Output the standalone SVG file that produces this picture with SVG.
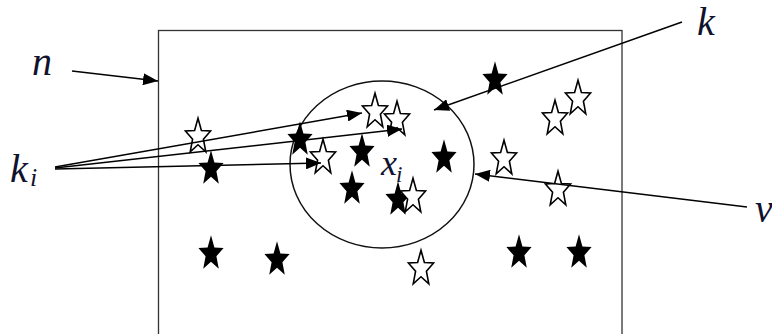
<svg xmlns="http://www.w3.org/2000/svg" width="772" height="334" viewBox="0 0 772 334">
<style>
.lbl{font-style:italic;fill:#10122e}
.line{stroke:#000;stroke-width:1.5;fill:none}
.full{fill:#000}
.open{fill:#fff;stroke:#000;stroke-width:1.5;stroke-linejoin:miter}
</style>
<defs>
<path id="star" transform="scale(1.06)" d="M0,-15.8 L3.2,-4.3 L11.89,-3.72 L5.1,4 L7.35,15.8 L0,9.2 L-7.35,15.8 L-5.1,4 L-11.89,-3.72 L-3.2,-4.3 Z"/>
<marker id="arr" markerUnits="userSpaceOnUse" markerWidth="16" markerHeight="12" refX="15" refY="6" orient="auto">
<path d="M0,0 L15,6 L0,12 Z" fill="#000"/>
</marker>
</defs>
<rect x="0" y="0" width="772" height="334" fill="#fff"/>
<g id="frame-n"><rect x="158.5" y="30.5" width="463.5" height="320" fill="none" stroke="#333" stroke-width="1.3"/></g>
<g id="neighbourhood"><ellipse cx="382" cy="164.5" rx="92" ry="83.5" fill="none" stroke="#111" stroke-width="1.5"/></g>
<g id="stars-filled">
<g id="s1"><use href="#star" class="full" x="495" y="78"/></g>
<g id="s2"><use href="#star" class="full" x="300" y="138"/></g>
<g id="s3"><use href="#star" class="full" x="362" y="150"/></g>
<g id="s4"><use href="#star" class="full" x="444" y="156"/></g>
<g id="s5"><use href="#star" class="full" x="211" y="167"/></g>
<g id="s6"><use href="#star" class="full" x="352" y="187"/></g>
<g id="s7"><use href="#star" class="full" x="398" y="198"/></g>
<g id="s8"><use href="#star" class="full" x="211" y="252"/></g>
<g id="s9"><use href="#star" class="full" x="277" y="258"/></g>
<g id="s10"><use href="#star" class="full" x="519" y="251"/></g>
<g id="s11"><use href="#star" class="full" x="579" y="251"/></g>
</g>
<g id="stars-open">
<g id="o1"><use href="#star" class="open" x="375" y="110"/></g>
<g id="o2"><use href="#star" class="open" x="397" y="118"/></g>
<g id="o3"><use href="#star" class="open" x="198" y="135"/></g>
<g id="o4"><use href="#star" class="open" x="323" y="156"/></g>
<g id="o5"><use href="#star" class="open" x="413" y="195"/></g>
<g id="o6"><use href="#star" class="open" x="578" y="97"/></g>
<g id="o7"><use href="#star" class="open" x="555" y="117"/></g>
<g id="o8"><use href="#star" class="open" x="504" y="157"/></g>
<g id="o9"><use href="#star" class="open" x="558" y="188"/></g>
<g id="o10"><use href="#star" class="open" x="421" y="267"/></g>
</g>
<g id="connectors">
<line class="line" x1="72" y1="71" x2="158" y2="81" marker-end="url(#arr)"/>
<line class="line" x1="55" y1="167" x2="362" y2="113" marker-end="url(#arr)"/>
<line class="line" x1="55" y1="168" x2="402" y2="129" marker-end="url(#arr)"/>
<line class="line" x1="55" y1="169" x2="321" y2="163" marker-end="url(#arr)"/>
<line class="line" x1="682" y1="22" x2="434" y2="110" marker-end="url(#arr)"/>
<line class="line" x1="747" y1="207" x2="475" y2="174" marker-end="url(#arr)"/>
</g>
<g id="labels" font-family="Liberation Serif, serif" font-style="italic">
<text class="lbl" font-size="40" x="32" y="75">n</text>
<text class="lbl" font-size="40" x="10" y="182">k</text>
<text class="lbl" font-size="26" x="30" y="186">i</text>
<text class="lbl" font-size="40" x="697" y="35">k</text>
<text class="lbl" font-size="40" x="755" y="222">v</text>
<text class="lbl" font-size="36" x="381" y="175">x</text>
<text class="lbl" font-size="23" x="396" y="182">i</text>
</g>
</svg>
